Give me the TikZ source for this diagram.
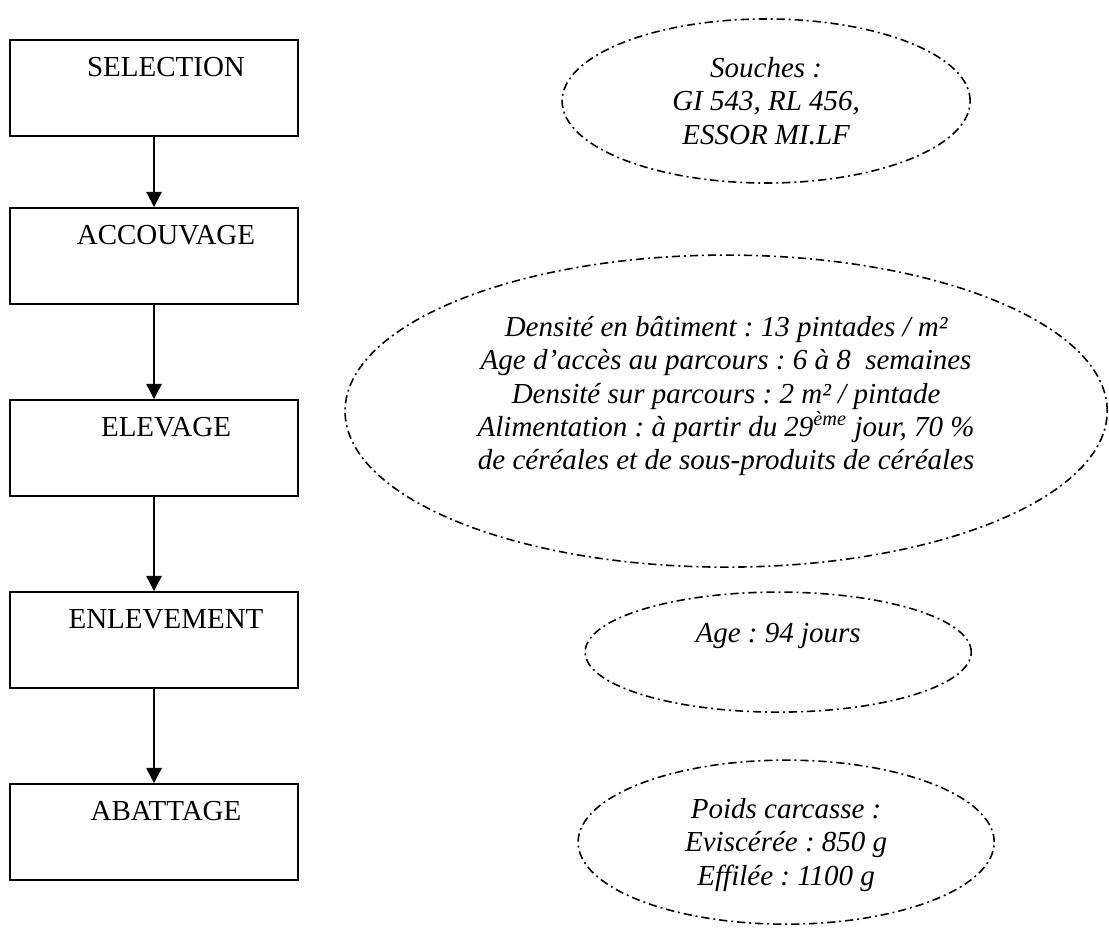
\documentclass[tikz,border=0pt]{standalone}
\usepackage{fontspec}
\setmainfont{Liberation Serif}
\usepackage{tikz}
\usetikzlibrary{arrows.meta,shapes.geometric}
\frenchspacing

\tikzset{
  stepbox/.style={draw, rectangle, line width=0.8pt, minimum width=4.156cm, minimum height=1.385cm, inner sep=0pt},
  steplabel/.style={anchor=base, font=\fontsize{11.9pt}{13.7pt}\selectfont},
  bubble/.style={draw, ellipse, line width=0.65pt, dash pattern=on 3.4pt off 1.6pt on 0.8pt off 1.6pt, inner sep=0pt},
  note/.style={align=center, font=\fontsize{11.9pt}{13.7pt}\selectfont\itshape},
  flow/.style={line width=0.8pt, -{Triangle[length=0.22cm,width=0.22cm]}}
}

\begin{document}
\begin{tikzpicture}
\useasboundingbox (0,0) rectangle (16,-13.377);

% definitions
\node[stepbox] (sel)  at (2.222,-1.270) {};
\node[stepbox] (acc)  at (2.222,-3.694) {};
\node[stepbox] (elev) at (2.222,-6.465) {};
\node[stepbox] (enl)  at (2.222,-9.235) {};
\node[stepbox] (abat) at (2.222,-12.006) {};

\node[bubble, minimum width=5.887cm, minimum height=2.367cm] (souches) at (11.053,-1.457) {};
\node[bubble, minimum width=10.996cm, minimum height=4.502cm] (conduite) at (10.476,-5.931) {};
\node[bubble, minimum width=5.570cm, minimum height=1.732cm] (age) at (11.227,-9.408) {};
\node[bubble, minimum width=6.003cm, minimum height=2.367cm] (poids) at (11.342,-12.150) {};

% drawing
\draw[flow] (sel) -- (acc);
\draw[flow] (acc) -- (elev);
\draw[flow] (elev) -- (enl);
\draw[flow] (enl) -- (abat);

% labels
\node[steplabel] (seltxt)  at ([xshift=0.173cm,yshift=-0.534cm]sel.north)  {SELECTION};
\node[steplabel] (acctxt)  at ([xshift=0.173cm,yshift=-0.534cm]acc.north)  {ACCOUVAGE};
\node[steplabel] (elevtxt) at ([xshift=0.173cm,yshift=-0.534cm]elev.north) {ELEVAGE};
\node[steplabel] (enltxt)  at ([xshift=0.173cm,yshift=-0.534cm]enl.north)  {ENLEVEMENT};
\node[steplabel] (abattxt) at ([xshift=0.173cm,yshift=-0.534cm]abat.north) {ABATTAGE};

\node[note] (souchestxt) at (souches) {Souches :\\GI 543, RL 456,\\ESSOR MI.LF};
\node[note] (conduitetxt) at ([yshift=0.216cm]conduite.center) {Densité en bâtiment : 13 pintades / m²\\Age d’accès au parcours : 6 à 8\ \ semaines\\Densité sur parcours : 2 m² / pintade\\Alimentation : à partir du 29\textsuperscript{ème} jour, 70 \%\\de céréales et de sous-produits de céréales};
\node[note] (agetxt) at ([yshift=0.23cm]age.center) {Age : 94 jours};
\node[note] (poidstxt) at ([yshift=-0.04cm]poids.center) {Poids carcasse :\\Eviscérée : 850 g\\Effilée : 1100 g};
\end{tikzpicture}
\end{document}
